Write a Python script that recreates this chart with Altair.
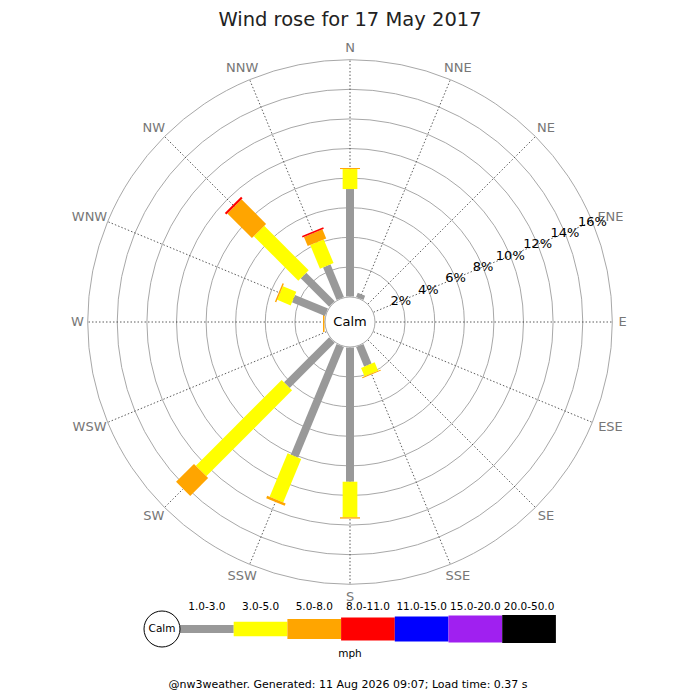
import math
import altair as alt
import pandas as pd

# ---------------- data ----------------
TITLE = "Wind rose for 17 May 2017"
FOOTER = "@nw3weather. Generated: 11 Aug 2026 09:07; Load time: 0.37 s"
UNIT_LABEL = "mph"
CALM_LABEL = "Calm"

DIRECTIONS = ["N", "NNE", "NE", "ENE", "E", "ESE", "SE", "SSE",
              "S", "SSW", "SW", "WSW", "W", "WNW", "NW", "NNW"]
SPEED_CLASSES = ["1.0-3.0", "3.0-5.0", "5.0-8.0", "8.0-11.0",
                 "11.0-15.0", "15.0-20.0", "20.0-50.0"]
RING_PCTS = [2, 4, 6, 8, 10, 12, 14, 16]
RING_LABELS = ["2%", "4%", "6%", "8%", "10%", "12%", "14%", "16%"]

# percent of time, per direction (order of DIRECTIONS), per speed class
SPEED_1_3 = [7.26, 0.30, 0, 0, 0, 0, 0, 1.43, 9.07, 8.09, 4.31, 0, 0, 2.41, 2.72, 2.38]
SPEED_3_5 = [1.35, 0, 0, 0, 0, 0, 0, 0.61, 2.40, 3.18, 8.20, 0, 0, 0.98, 4.25, 1.73]
SPEED_5_8 = [0.07, 0, 0, 0, 0, 0, 0, 0.07, 0.09, 0.17, 1.71, 0, 0.10, 0.10, 2.35, 0.67]
SPEED_8_11 = [0, 0, 0, 0, 0, 0, 0, 0, 0, 0, 0, 0, 0, 0, 0.14, 0.10]

# ---------------- styles ----------------
CLASS_COLORS = ["#999999", "#ffff00", "#ffa500", "#ff0000", "#0000ff", "#a020f0", "#000000"]
CLASS_WIDTHS = [8, 14.7, 20, 23, 25, 27, 28]
FONT = "DejaVu Sans"

K = 14.8              # pixels per percent
OFFSET = 25.5 / K     # calm hole radius, in percent units
W, H = 684, 684
CX, CY = 342, 314     # centre of the rose inside the view
LABEL_R = 268         # px, inner edge of direction labels
CHAR_W, CHAR_H = 9.3, 13

series = [SPEED_1_3, SPEED_3_5, SPEED_5_8, SPEED_8_11]
rows = []
for i, d in enumerate(DIRECTIONS):
    cum = 0.0
    for j, s in enumerate(series):
        v = s[i]
        if v > 0:
            rows.append({"dir": d, "idx": i, "cls": SPEED_CLASSES[j],
                         "start": cum, "end": cum + v})
        cum += v
bars_df = pd.DataFrame(rows)
dirs_df = pd.DataFrame({"dir": DIRECTIONS, "idx": list(range(len(DIRECTIONS)))})
rings_df = pd.DataFrame({"pct": RING_PCTS, "label": RING_LABELS})
legend_df = pd.DataFrame({"cls": SPEED_CLASSES, "i": list(range(len(SPEED_CLASSES)))})

xs = alt.Scale(domain=[-CX / K, (W - CX) / K], nice=False, zero=False)
ys = alt.Scale(domain=[-(H - CY) / K, CY / K], nice=False, zero=False)
color_scale = alt.Scale(domain=SPEED_CLASSES, range=CLASS_COLORS)
width_scale = alt.Scale(type="ordinal", domain=SPEED_CLASSES, range=CLASS_WIDTHS)

# rings
rings = alt.Chart(rings_df).transform_calculate(
    rpx=f"({OFFSET} + datum.pct) * {K}", cx="0", cy="0"
).mark_arc(theta=0, theta2=2 * math.pi, fillOpacity=0, stroke="#a8a8a8",
           strokeWidth=1).encode(
    x=alt.X("cx:Q", scale=xs, axis=None),
    y=alt.Y("cy:Q", scale=ys, axis=None),
    radius=alt.Radius("rpx:Q", scale=None, stack=None),
)

# spokes
spokes = alt.Chart(dirs_df).transform_calculate(
    ang="datum.idx * PI / 8",
    x0=f"{OFFSET} * sin(datum.ang)", y0=f"{OFFSET} * cos(datum.ang)",
    x1=f"{OFFSET + RING_PCTS[-1]} * sin(datum.ang)",
    y1=f"{OFFSET + RING_PCTS[-1]} * cos(datum.ang)",
).mark_rule(color="#333333", strokeWidth=0.8, strokeDash=[1.5, 2]).encode(
    x=alt.X("x0:Q", scale=xs, axis=None), y=alt.Y("y0:Q", scale=ys, axis=None),
    x2="x1:Q", y2="y1:Q",
)

# bars
bars = alt.Chart(bars_df).transform_calculate(
    ang="datum.idx * PI / 8",
    r0=f"{OFFSET} + datum.start", r1=f"{OFFSET} + datum.end",
    x0="datum.r0 * sin(datum.ang)", y0="datum.r0 * cos(datum.ang)",
    x1="datum.r1 * sin(datum.ang)", y1="datum.r1 * cos(datum.ang)",
).mark_rule().encode(
    x=alt.X("x0:Q", scale=xs, axis=None), y=alt.Y("y0:Q", scale=ys, axis=None),
    x2="x1:Q", y2="y1:Q",
    color=alt.Color("cls:N", scale=color_scale, legend=None),
    strokeWidth=alt.StrokeWidth("cls:O", scale=width_scale, legend=None),
)

# calm disc
calm_df = pd.DataFrame({"t": [CALM_LABEL], "cx": [0.0], "cy": [0.0]})
calm_disc = alt.Chart(calm_df).mark_arc(
    theta=0, theta2=2 * math.pi, fill="white", stroke="#aaaaaa", strokeWidth=1
).encode(
    x=alt.X("cx:Q", scale=xs, axis=None), y=alt.Y("cy:Q", scale=ys, axis=None),
    radius=alt.value(25),
)
calm_text = alt.Chart(calm_df).mark_text(font=FONT, fontSize=13, color="black",
                                         baseline="middle").encode(
    x=alt.X("cx:Q", scale=xs, axis=None), y=alt.Y("cy:Q", scale=ys, axis=None),
    text="t:N",
)

# direction labels: pushed outwards by half their size
dir_labels = alt.Chart(dirs_df).transform_calculate(
    ang="datum.idx * PI / 8",
    lx=f"({LABEL_R} + length(datum.dir) * {CHAR_W} / 2) * sin(datum.ang) / {K}",
    ly=f"({LABEL_R} + {CHAR_H} / 2) * cos(datum.ang) / {K}",
).mark_text(font=FONT, fontSize=13, color="#777777", align="center",
            baseline="middle").encode(
    x=alt.X("lx:Q", scale=xs, axis=None), y=alt.Y("ly:Q", scale=ys, axis=None),
    text="dir:N",
)

# ring labels along ENE
ring_labels = alt.Chart(rings_df).transform_calculate(
    ang="3 * PI / 8",
    lx=f"({OFFSET} + datum.pct) * sin(datum.ang)",
    ly=f"({OFFSET} + datum.pct) * cos(datum.ang)",
).mark_text(font=FONT, fontSize=13, color="black", baseline="middle").encode(
    x=alt.X("lx:Q", scale=xs, axis=None), y=alt.Y("ly:Q", scale=ys, axis=None),
    text="label:N",
)

# title / footer / unit
title = alt.Chart(pd.DataFrame({"t": [TITLE]})).mark_text(
    font=FONT, fontSize=19.5, color="#222222", baseline="middle").encode(
    x=alt.value(342), y=alt.value(12), text="t:N")
footer = alt.Chart(pd.DataFrame({"t": [FOOTER]})).mark_text(
    font=FONT, fontSize=11, color="black", baseline="middle").encode(
    x=alt.value(340), y=alt.value(677), text="t:N")
unit = alt.Chart(pd.DataFrame({"t": [UNIT_LABEL]})).mark_text(
    font=FONT, fontSize=10.5, color="black", baseline="middle").encode(
    x=alt.value(342), y=alt.value(646), text="t:N")

# legend
LEG_X0, LEG_STEP, LEG_Y = 172, 53.7, 621
legend_bars = alt.Chart(legend_df).transform_calculate(
    lx0=f"{LEG_X0} + {LEG_STEP} * datum.i",
    lx1=f"{LEG_X0} + {LEG_STEP} * (datum.i + 1)",
).mark_rule().encode(
    x=alt.X("lx0:Q", scale=None), x2="lx1:Q", y=alt.value(LEG_Y),
    color=alt.Color("cls:N", scale=color_scale, legend=None),
    strokeWidth=alt.StrokeWidth("cls:O", scale=width_scale, legend=None),
)
legend_text = alt.Chart(legend_df).transform_calculate(
    lxc=f"{LEG_X0} + {LEG_STEP} * (datum.i + 0.5)",
).mark_text(font=FONT, fontSize=10.5, color="black", baseline="middle").encode(
    x=alt.X("lxc:Q", scale=None), y=alt.value(599), text="cls:N",
)
legend_calm = alt.Chart(calm_df).mark_arc(
    theta=0, theta2=2 * math.pi, fill="white", stroke="black", strokeWidth=1
).encode(x=alt.value(154), y=alt.value(LEG_Y), radius=alt.value(18))
legend_calm_text = alt.Chart(calm_df).mark_text(
    font=FONT, fontSize=10.5, color="black", baseline="middle").encode(
    x=alt.value(154), y=alt.value(LEG_Y), text="t:N")

chart = alt.layer(
    rings, spokes, bars, calm_disc, calm_text, dir_labels, ring_labels,
    title, legend_bars, legend_calm, legend_calm_text, legend_text, unit, footer,
).properties(
    width=W, height=H, padding=0,
    autosize=alt.AutoSizeParams(type="none"),
    background="white",
).configure_view(strokeWidth=0)

chart.save("out.html", embed_options={"renderer": "svg", "actions": False})
